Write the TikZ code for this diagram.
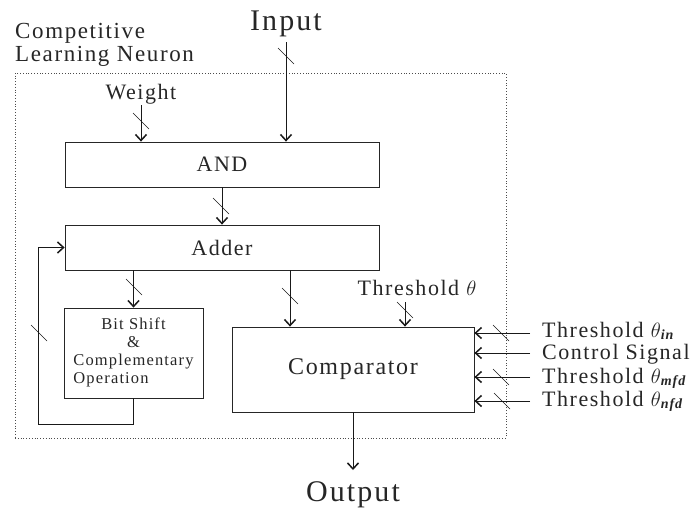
\documentclass[tikz,border=0pt]{standalone}
\usepackage{amsmath}
\usepackage{fontspec}
\setmainfont{Liberation Serif}[LetterSpace=7]
\usetikzlibrary{arrows.meta}
\newcommand{\subtxt}[1]{\raisebox{-2pt}{\fontsize{14}{14}\selectfont\bfseries\itshape #1}}
\tikzset{
  box/.style={draw=black!85, line width=0.8pt, rectangle, inner sep=0pt, text=black!85},
  conn/.style={draw=black!90, line width=0.8pt, -{Straight Barb[length=6pt,width=11pt,line width=1.5pt]}},
  slashline/.style={draw=black!90, line width=0.6pt},
  lbl/.style={text=black!85, inner sep=0pt},
  bigfont/.style={font=\fontsize{30}{30}\selectfont},
  midfont/.style={font=\fontsize{22}{23}\selectfont},
  smallfont/.style={font=\fontsize{16.5}{18.2}\selectfont},
  compfont/.style={font=\fontsize{24}{24}\selectfont}
}
\begin{document}
\begin{tikzpicture}[x=1pt,y=-1pt]
\useasboundingbox (0,0) rectangle (699,509);
% enclosing dotted frame
\node[box, draw=black!70, line width=0.6pt, dash pattern=on 0.8pt off 2pt,
      minimum width=491pt, minimum height=365pt] (cln) at (260.5,255.5) {};
\node[lbl, anchor=base west, font=\fontsize{23}{23}\selectfont] (clnlabel) at (15,38)
  {\begin{tabular}[t]{@{}l@{}}Competitive\\Learning Neuron\end{tabular}};
% labels
\node[lbl, anchor=base, bigfont] (inp) at (286,30) {Input};
\node[lbl, anchor=base, midfont] (wt) at (141,99) {Weight};
\node[lbl, anchor=base, midfont] (thr) at (417,295) {Threshold $\theta$};
\node[lbl, anchor=base west, midfont] (tin) at (542,337) {Threshold $\theta$\subtxt{in}};
\node[lbl, anchor=base west, midfont] (ctl) at (542,359) {Control Signal};
\node[lbl, anchor=base west, midfont] (tmfd) at (542,383) {Threshold $\theta$\subtxt{mfd}};
\node[lbl, anchor=base west, midfont] (tnfd) at (542,406) {Threshold $\theta$\subtxt{nfd}};
\node[lbl, anchor=base, bigfont] (out) at (353,501) {Output};
% blocks
\node[box, minimum width=314pt, minimum height=45pt, midfont] (and) at (222,164.5) {AND};
\node[box, minimum width=314pt, minimum height=45pt, midfont] (adder) at (222,247.5) {Adder};
\node[box, minimum width=139pt, minimum height=90pt, smallfont] (bits) at (133.5,353)
  {\begin{tabular}{@{}l@{}}\multicolumn{1}{@{}c@{}}{Bit Shift}\\\multicolumn{1}{@{}c@{}}{\&}\\Complementary\\Operation\end{tabular}};
\node[box, minimum width=242pt, minimum height=85pt, compfont] (comp) at (353,369.5) {Comparator};
% connector helper coordinates
\coordinate (inS) at (286,42);
\coordinate (wS) at (141,105);
\coordinate (acx) at (290,0);
\coordinate (fb) at (38,424);
\coordinate (thS) at (405,302);
\coordinate (r1) at (530,333);
\coordinate (r2) at (530,353);
\coordinate (r3) at (530,377);
\coordinate (r4) at (530,401);
\coordinate (oE) at (353,470);
% connectors
\draw[conn] (inS) -- (inS |- and.north);
\draw[conn] (wS) -- (wS |- and.north);
\draw[conn] (and) -- (adder);
\draw[conn] (adder.south -| bits) -- (bits);
\draw[conn] (adder.south -| acx) -- (comp.north -| acx);
\draw[conn] (bits.south) |- (fb) |- (adder.west);
\draw[conn] (thS) -- (thS |- comp.north);
\draw[conn] (r1) -- (r1 -| comp.east);
\draw[conn] (r2) -- (r2 -| comp.east);
\draw[conn] (r3) -- (r3 -| comp.east);
\draw[conn] (r4) -- (r4 -| comp.east);
\draw[conn] (comp.south) -- (oE);
% bus slash marks
\coordinate (s1) at (286,56);
\coordinate (s2) at (141,121);
\coordinate (s3) at (221,206);
\coordinate (s4) at (134,287);
\coordinate (s5) at (290,296);
\coordinate (s6) at (39,333);
\coordinate (s7) at (405,310);
\coordinate (s8) at (501,333);
\coordinate (s9) at (501,377);
\coordinate (s10) at (502,401);
\foreach \s in {s1,s2,s3,s4,s5,s6,s7,s8,s9,s10}
  \draw[slashline] (\s) ++(-8,-8) -- ++(16,16);
\end{tikzpicture}
\end{document}
